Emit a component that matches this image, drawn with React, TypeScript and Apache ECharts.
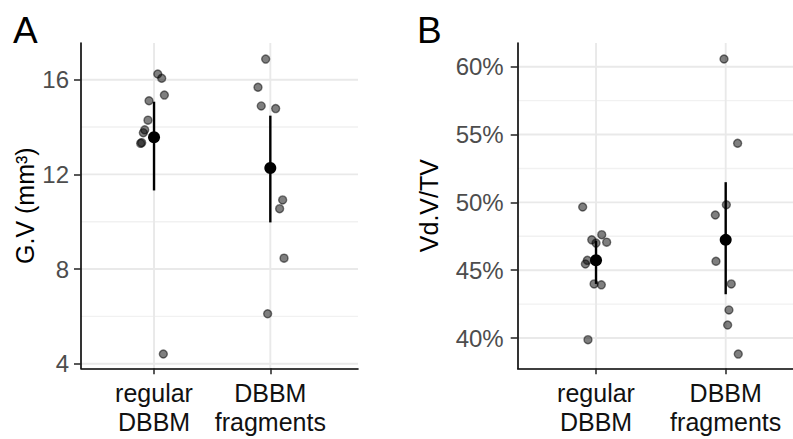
import React, { useEffect, useRef } from "react";
import * as echarts from "echarts";

// ---- data ----
const categories = ["regular\nDBBM", "DBBM\nfragments"];

// Panel A: G.V (mm³)
const gvRegular = [16.24, 16.06, 15.35, 15.11, 14.29, 13.88, 13.76, 13.34, 13.31, 4.41];
const gvRegularJitter = [0.032, 0.066, 0.089, -0.043, -0.052, -0.08, -0.092, -0.106, -0.115, 0.08];
const gvFragments = [16.87, 15.68, 14.89, 14.78, 10.92, 10.55, 8.46, 6.11];
const gvFragmentsJitter = [-0.04, -0.106, -0.078, 0.046, 0.106, 0.08, 0.118, -0.023];
const gvMean = [13.57, 12.27];
const gvLower = [11.32, 9.97];
const gvUpper = [15.07, 14.48];
const gvTicks = [4, 8, 12, 16];
const gvMinorTicks = [6, 10, 14];

// Panel B: Vd.V/TV (%)
const vdRegular = [49.66, 47.62, 47.24, 47.07, 47.0, 45.73, 45.46, 43.99, 43.92, 39.88];
const vdRegularJitter = [-0.103, 0.044, -0.033, 0.082, 0.0, -0.067, -0.082, -0.015, 0.041, -0.062];
const vdFragments = [60.57, 54.36, 49.83, 49.07, 45.66, 43.99, 42.07, 40.96, 38.82];
const vdFragmentsJitter = [-0.013, 0.092, 0.005, -0.08, -0.075, 0.043, 0.025, 0.015, 0.097];
const vdMean = [45.74, 47.24];
const vdLower = [43.99, 43.23];
const vdUpper = [47.18, 51.49];
const vdTicks = [40, 45, 50, 55, 60];
const vdMinorTicks = [42.5, 47.5, 52.5, 57.5];

const FONT = "'Liberation Sans', Arial, Helvetica, sans-serif";

function gridLineSeries(idx: number, major: number[], minor: number[], midY: number) {
  const data: number[][] = [
    ...major.map((v) => [1, v, 0]),
    ...minor.map((v) => [1, v, 1]),
    [1, midY, 2],
    [2, midY, 2],
  ];
  return {
    type: "custom",
    xAxisIndex: idx,
    yAxisIndex: idx,
    silent: true,
    z: 1,
    encode: { x: 0, y: 1 },
    data,
    renderItem: (params: any, api: any) => {
      const cs = params.coordSys;
      const kind = api.value(2);
      const p = api.coord([api.value(0), api.value(1)]);
      if (kind === 2) {
        return {
          type: "line",
          shape: { x1: p[0], y1: cs.y, x2: p[0], y2: cs.y + cs.height },
          style: { stroke: "#e9e9e9", lineWidth: 1.9 },
        };
      }
      return {
        type: "line",
        shape: { x1: cs.x, y1: p[1], x2: cs.x + cs.width, y2: p[1] },
        style: { stroke: kind === 0 ? "#e9e9e9" : "#f1f1f1", lineWidth: kind === 0 ? 1.9 : 1.4 },
      };
    },
  };
}

function pointSeries(idx: number, cat: number, values: number[], jitter: number[]) {
  return {
    type: "scatter",
    xAxisIndex: idx,
    yAxisIndex: idx,
    z: 3,
    symbol: "circle",
    symbolSize: 8,
    itemStyle: {
      color: "rgba(0,0,0,0.5)",
      borderColor: "rgba(0,0,0,0.5)",
      borderWidth: 1.4,
      opacity: 1,
    },
    data: values.map((v, i) => [cat + jitter[i], v]),
  };
}

function summarySeries(idx: number, mean: number[], lower: number[], upper: number[]) {
  return {
    type: "custom",
    xAxisIndex: idx,
    yAxisIndex: idx,
    z: 4,
    encode: { x: 0, y: [1, 2, 3] },
    data: mean.map((m, i) => [i + 1, m, lower[i], upper[i]]),
    renderItem: (params: any, api: any) => {
      const x = api.value(0);
      const c = api.coord([x, api.value(1)]);
      const lo = api.coord([x, api.value(2)]);
      const hi = api.coord([x, api.value(3)]);
      return {
        type: "group",
        children: [
          {
            type: "line",
            shape: { x1: lo[0], y1: lo[1], x2: hi[0], y2: hi[1] },
            style: { stroke: "#000", lineWidth: 2.4 },
          },
          {
            type: "circle",
            shape: { cx: c[0], cy: c[1], r: 6 },
            style: { fill: "#000" },
          },
        ],
      };
    },
  };
}

function xAxis(idx: number, min: number, max: number) {
  return {
    type: "value",
    gridIndex: idx,
    min,
    max,
    z: 10,
    axisLine: { show: true, onZero: false, lineStyle: { color: "#000", width: 1.6 } },
    axisTick: { show: true, customValues: [1, 2], length: 6, lineStyle: { color: "#222", width: 1.5 } },
    axisLabel: {
      show: true,
      customValues: [1, 2],
      formatter: (v: number) => categories[Math.round(v) - 1] ?? "",
      color: "#111",
      fontSize: 25,
      lineHeight: 29,
      margin: 10,
      fontFamily: FONT,
    },
    splitLine: { show: false },
  };
}

function yAxis(idx: number, min: number, max: number, ticks: number[], fmt: (v: number) => string, name: string, nameGap: number, labelMargin: number) {
  return {
    type: "value",
    gridIndex: idx,
    min,
    max,
    z: 10,
    name,
    nameLocation: "middle",
    nameGap,
    nameRotate: 90,
    nameTextStyle: { color: "#000", fontSize: 25, fontFamily: FONT },
    axisLine: { show: true, onZero: false, lineStyle: { color: "#000", width: 1.6 } },
    axisTick: { show: true, customValues: ticks, length: 7, lineStyle: { color: "#222", width: 1.5 } },
    axisLabel: {
      show: true,
      customValues: ticks,
      formatter: fmt,
      color: "#4d4d4d",
      fontSize: 24,
      margin: labelMargin,
      fontFamily: FONT,
    },
    splitLine: { show: false },
  };
}

export default function App() {
  const ref = useRef<HTMLDivElement>(null);
  useEffect(() => {
    if (!ref.current) return;
    const chart = echarts.init(ref.current, null, { renderer: "svg" });
    const option: any = {
      animation: false,
      backgroundColor: "#fff",
      textStyle: { fontFamily: FONT },
      grid: [
        { left: 81, top: 43, width: 277, height: 325.3, outerBoundsMode: "none", containLabel: false },
        { left: 517.7, top: 43, width: 275.3, height: 325.3, outerBoundsMode: "none", containLabel: false },
      ],
      xAxis: [xAxis(0, 0.372, 2.754), xAxis(1, 0.396, 2.519)],
      yAxis: [
        yAxis(0, 3.806, 17.55, gvTicks, (v) => String(v), "G.V (mm³)", 44, 12),
        yAxis(1, 37.77, 61.75, vdTicks, (v) => `${v}%`, "Vd.V/TV", 76, 14),
      ],
      graphic: [
        { type: "text", left: 13, top: 12, style: { text: "A", fontSize: 37, fill: "#000", fontFamily: FONT } },
        { type: "text", left: 417, top: 12, style: { text: "B", fontSize: 37, fill: "#000", fontFamily: FONT } },
      ],
      series: [
        gridLineSeries(0, gvTicks, gvMinorTicks, 10),
        gridLineSeries(1, vdTicks, vdMinorTicks, 50),
        pointSeries(0, 1, gvRegular, gvRegularJitter),
        pointSeries(0, 2, gvFragments, gvFragmentsJitter),
        pointSeries(1, 1, vdRegular, vdRegularJitter),
        pointSeries(1, 2, vdFragments, vdFragmentsJitter),
        summarySeries(0, gvMean, gvLower, gvUpper),
        summarySeries(1, vdMean, vdLower, vdUpper),
      ],
    };
    chart.setOption(option);
    return () => chart.dispose();
  }, []);
  return (
    <div
      ref={ref}
      style={{ position: "fixed", left: 0, top: 0, width: 793, height: 439, background: "#fff" }}
    />
  );
}
